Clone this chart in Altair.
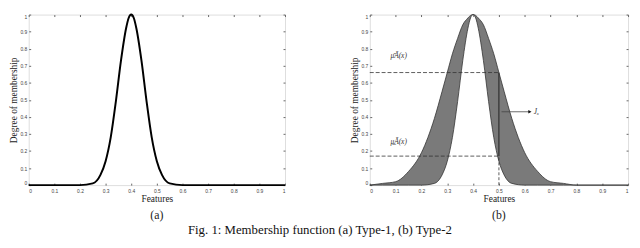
import altair as alt
import pandas as pd

# ---- data ----
# (a) Type-1 membership function
t1_x = [0, 0.2, 0.25, 0.28, 0.3, 0.32, 0.34, 0.36, 0.38, 0.39, 0.4, 0.41, 0.42, 0.44, 0.46, 0.48, 0.5, 0.52, 0.55, 0.6, 1]
t1_y = [0, 0, 0.01, 0.06, 0.14, 0.28, 0.49, 0.73, 0.92, 0.98, 1, 0.98, 0.92, 0.73, 0.49, 0.28, 0.14, 0.06, 0.01, 0, 0]

# (b) Type-2 membership function: upper and lower MFs
t2_x = [0, 0.05, 0.1, 0.15, 0.2, 0.25, 0.28, 0.3, 0.32, 0.34, 0.36, 0.38, 0.39, 0.4, 0.41, 0.42, 0.44, 0.46,
        0.48, 0.5, 0.52, 0.55, 0.6, 0.65, 0.7, 0.75, 0.8, 1]
t2_upper = [0, 0.01, 0.02, 0.08, 0.19, 0.39, 0.55, 0.66, 0.77, 0.86, 0.94, 0.98, 0.995, 1, 0.995, 0.98, 0.94, 0.86,
            0.77, 0.66, 0.55, 0.39, 0.19, 0.08, 0.02, 0.01, 0, 0]
t2_lower = [0, 0, 0, 0, 0, 0.01, 0.06, 0.14, 0.28, 0.49, 0.73, 0.92, 0.98, 1, 0.98, 0.92, 0.73, 0.49,
            0.28, 0.14, 0.06, 0.01, 0, 0, 0, 0, 0, 0]

# annotation values (b)
x_cut = 0.5
mu_upper_at_cut = 0.66
mu_lower_at_cut = 0.17
arrow_y = 0.43
arrow_x_end = 0.62
label_upper = ["\u03bc\u0304\u00c3(x)"]
label_lower = ["\u03bc\u0332\u00c3(x)"]
label_jx = ["J\u2093"]

ticks = [0, 0.1, 0.2, 0.3, 0.4, 0.5, 0.6, 0.7, 0.8, 0.9, 1]

caption = "Fig. 1: Membership function (a) Type-1, (b) Type-2"

SERIF = "Liberation Serif"
SANS = "Liberation Sans"
TICK = 2


def common(orient, labels):
    kw = dict(values=ticks, format="~g", orient=orient, domain=False, grid=False,
              tickSize=TICK, offset=-TICK, tickColor="#666", labels=labels,
              labelFont=SANS, labelFontSize=5, labelColor="#444")
    if not labels:
        kw.update(minExtent=0, maxExtent=0, title=None)
    return kw


def x_axis(orient="bottom", labels=True):
    kw = common(orient, labels)
    if labels:
        kw.update(labelPadding=TICK + 1, title="Features", titleFont=SERIF, titleFontSize=9.5,
                  titleFontWeight="normal", titleColor="#222", titlePadding=1)
    return alt.Axis(**kw)


def y_axis(orient="left", labels=True):
    kw = common(orient, labels)
    if labels:
        kw.update(labelPadding=TICK, labelFlush=True, title="Degree of membership", titleFont=SERIF,
                  titleFontSize=9.5, titleFontWeight="normal", titleColor="#222", titlePadding=1)
    return alt.Axis(**kw)


xs = alt.Scale(domain=[0, 1], nice=False, zero=False)
ys = alt.Scale(domain=[0, 1], nice=False, zero=False)

W1, W2, H = 260, 262, 173

def X(field):
    return alt.X(field, scale=xs, axis=None)

def Y(field):
    return alt.Y(field, scale=ys, axis=None)

# ---------- (a) ----------
df1 = pd.DataFrame({"x": t1_x, "y": t1_y})
a_line = alt.Chart(df1).mark_line(color="black", strokeWidth=2, interpolate="monotone").encode(
    x=alt.X("x:Q", scale=xs, axis=x_axis()),
    y=alt.Y("y:Q", scale=ys, axis=y_axis()),
)
a_box = alt.Chart(df1).mark_point(opacity=0).encode(
    x=alt.X("x:Q", scale=xs, axis=x_axis("top", labels=False)),
    y=alt.Y("y:Q", scale=ys, axis=y_axis("right", labels=False)),
)
panel_a = alt.layer(a_box, a_line).resolve_axis(x="independent", y="independent").properties(
    width=W1, height=H,
    title=alt.TitleParams("(a)", orient="bottom", font=SERIF, fontSize=12, fontWeight="normal",
                          color="#222", offset=7),
)

# ---------- (b) ----------
df2 = pd.DataFrame({"x": t2_x, "upper": t2_upper, "lower": t2_lower})
b_area = alt.Chart(df2).mark_area(color="#7a7a7a", opacity=1, interpolate="monotone").encode(
    x=alt.X("x:Q", scale=xs, axis=x_axis()),
    y=alt.Y("upper:Q", scale=ys, axis=y_axis()),
    y2="lower:Q",
)
b_up = alt.Chart(df2).mark_line(color="#333", strokeWidth=0.8, interpolate="monotone").encode(
    x=X("x:Q"), y=Y("upper:Q"))
b_lo = alt.Chart(df2).mark_line(color="#333", strokeWidth=0.8, interpolate="monotone").encode(
    x=X("x:Q"), y=Y("lower:Q"))
b_box = alt.Chart(df2).mark_point(opacity=0).encode(
    x=alt.X("x:Q", scale=xs, axis=x_axis("top", labels=False)),
    y=alt.Y("upper:Q", scale=ys, axis=y_axis("right", labels=False)),
)

dash_h = pd.DataFrame({"x": [0, 0], "x2": [x_cut, x_cut], "y": [mu_upper_at_cut, mu_lower_at_cut]})
b_dash_h = alt.Chart(dash_h).mark_rule(color="#333", strokeDash=[4, 2], strokeWidth=0.8).encode(
    x=X("x:Q"), x2="x2:Q", y=Y("y:Q"))
dash_v = pd.DataFrame({"x": [x_cut], "y": [0], "y2": [mu_lower_at_cut]})
b_dash_v = alt.Chart(dash_v).mark_rule(color="#333", strokeDash=[3, 2], strokeWidth=0.8).encode(
    x=X("x:Q"), y=Y("y:Q"), y2="y2:Q")
solid_v = pd.DataFrame({"x": [x_cut], "y": [mu_lower_at_cut], "y2": [mu_upper_at_cut]})
b_solid_v = alt.Chart(solid_v).mark_rule(color="#222", strokeWidth=1).encode(
    x=X("x:Q"), y=Y("y:Q"), y2="y2:Q")
arrow = pd.DataFrame({"x": [x_cut + 0.01], "x2": [arrow_x_end], "y": [arrow_y]})
b_arrow = alt.Chart(arrow).mark_rule(color="#444", strokeWidth=0.8).encode(
    x=X("x:Q"), x2="x2:Q", y=Y("y:Q"))
head = pd.DataFrame({"x": [arrow_x_end], "y": [arrow_y]})
b_head = alt.Chart(head).mark_point(shape="triangle-right", filled=True, color="#111", size=14, opacity=1).encode(
    x=X("x:Q"), y=Y("y:Q"))

lab = pd.DataFrame({
    "x": [0.08, 0.08, arrow_x_end + 0.015],
    "y": [0.755, 0.255, arrow_y],
    "t": [label_upper[0], label_lower[0], label_jx[0]],
})
b_text = alt.Chart(lab).mark_text(font=SERIF, fontSize=7.5, fontStyle="italic", align="left",
                                  baseline="middle", color="#333").encode(
    x=X("x:Q"), y=Y("y:Q"), text="t:N")

panel_b = alt.layer(b_box, b_area, b_up, b_lo, b_dash_h, b_dash_v, b_solid_v, b_arrow, b_head, b_text
                    ).resolve_axis(x="independent", y="independent").properties(
    width=W2, height=H,
    title=alt.TitleParams("(b)", orient="bottom", font=SERIF, fontSize=12, fontWeight="normal",
                          color="#222", offset=7),
)

chart = alt.hconcat(panel_a, panel_b, spacing=60).properties(
    title=alt.TitleParams(caption, orient="bottom", anchor="middle", font=SERIF, fontSize=13,
                          fontWeight="normal", color="#111", offset=3),
    padding={"left": 0, "top": 0, "right": 0, "bottom": 0},
).configure_view(stroke="#8c8c8c", strokeWidth=1).configure(background="white")

chart.save("out.html", embed_options={"renderer": "svg", "actions": False})
